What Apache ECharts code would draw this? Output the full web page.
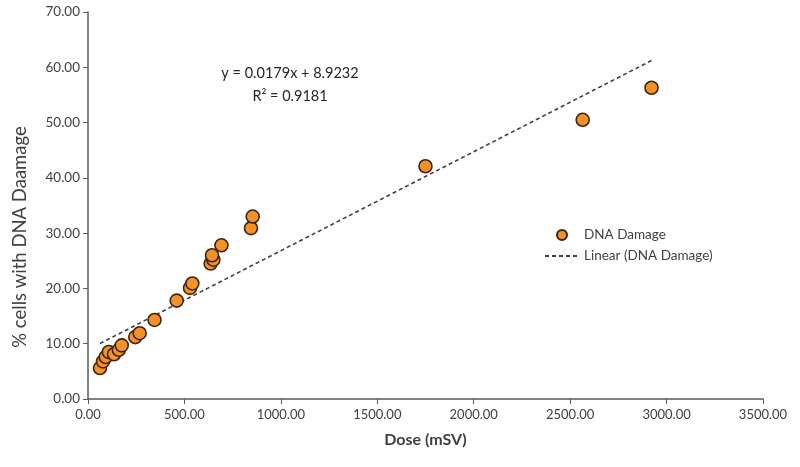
<!DOCTYPE html>
<html>
<head>
<meta charset="utf-8">
<script src="https://cdn.jsdelivr.net/npm/echarts@6/dist/echarts.min.js"></script>
<style>html,body{margin:0;padding:0;background:#fff}#c{width:800px;height:467px}</style>
</head>
<body>
<div id="c"></div>
<script>
const doseValues = [62, 78, 92, 108, 135, 160, 175, 245, 268, 345, 460, 529, 541, 636, 650, 643, 692, 845, 854, 1750, 2565, 2922];
const damageValues = [5.6, 6.8, 7.6, 8.5, 8.1, 8.9, 9.7, 11.2, 11.9, 14.3, 17.8, 20.1, 20.9, 24.5, 25.2, 26.0, 27.8, 30.9, 33.0, 42.1, 50.5, 56.3];
const trendSlope = 0.0179;
const trendIntercept = 8.9232;
const equationLines = ['y = 0.0179x + 8.9232', 'R² = 0.9181'];
const xTicks = [0, 500, 1000, 1500, 2000, 2500, 3000, 3500];
const yTicks = [0, 10, 20, 30, 40, 50, 60, 70];

const scatterData = doseValues.map((d, i) => [d, damageValues[i]]);
const xMinD = Math.min(...doseValues), xMaxD = Math.max(...doseValues);
const trendData = [[xMinD, trendSlope * xMinD + trendIntercept], [xMaxD, trendSlope * xMaxD + trendIntercept]];

const font = 'Lato, "Open Sans", sans-serif';
const chart = echarts.init(document.getElementById('c'), null, {renderer: 'canvas'});
chart.setOption({
  animation: false,
  backgroundColor: '#fff',
  grid: {left: 88, right: 37, top: 12, bottom: 68},
  xAxis: {
    type: 'value', min: xTicks[0], max: xTicks[xTicks.length - 1], interval: 500,
    name: 'Dose (mSV)', nameLocation: 'middle', nameGap: 33,
    nameTextStyle: {fontFamily: font, fontSize: 16, fontWeight: 'bold', color: '#404040'},
    axisLine: {show: true, onZero: false, lineStyle: {color: '#5a5a5a', width: 1.5}},
    axisTick: {show: true, length: 5, lineStyle: {color: '#5a5a5a'}},
    splitLine: {show: false},
    axisLabel: {fontFamily: font, fontSize: 13, color: '#404040', margin: 9, formatter: v => v.toFixed(2)}
  },
  yAxis: {
    type: 'value', min: yTicks[0], max: yTicks[yTicks.length - 1], interval: 10,
    axisLine: {show: true, onZero: false, lineStyle: {color: '#5a5a5a', width: 1.5}},
    axisTick: {show: true, length: 5, lineStyle: {color: '#5a5a5a'}},
    splitLine: {show: false},
    axisLabel: {fontFamily: font, fontSize: 13.5, color: '#404040', margin: 8, formatter: v => v.toFixed(2)}
  },
  legend: {
    orient: 'vertical', left: 539, top: 223, itemGap: 7, itemWidth: 34, itemHeight: 10,
    textStyle: {fontFamily: font, fontSize: 13.5, color: '#404040'},
    data: [
      {name: 'DNA Damage', icon: 'circle'},
      {name: 'Linear (DNA Damage)', itemStyle: {opacity: 0}}
    ]
  },
  series: [
    {
      name: 'Linear (DNA Damage)', type: 'line', data: trendData, showSymbol: false, symbol: 'none',
      lineStyle: {color: '#404040', width: 1.6, type: [4, 3]}, itemStyle: {color: '#404040'}, z: 1, silent: true
    },
    {
      name: 'DNA Damage', type: 'scatter', data: scatterData, symbolSize: 13,
      itemStyle: {color: '#f4922a', borderColor: '#3b2412', borderWidth: 1.6, opacity: 1}, z: 2
    }
  ],
  graphic: [
    {type: 'text', x: 290, y: 62, style: {text: equationLines.join('\n'), align: 'center', verticalAlign: 'top', fontFamily: font, fontSize: 14.5, lineHeight: 23, fill: '#262626'}},
    {type: 'text', x: 20, y: 237, rotation: Math.PI / 2, style: {text: '% cells with DNA Daamage', align: 'center', verticalAlign: 'middle', fontFamily: font, fontSize: 18.5, fill: '#404040'}}
  ]
});
</script>
</body>
</html>
